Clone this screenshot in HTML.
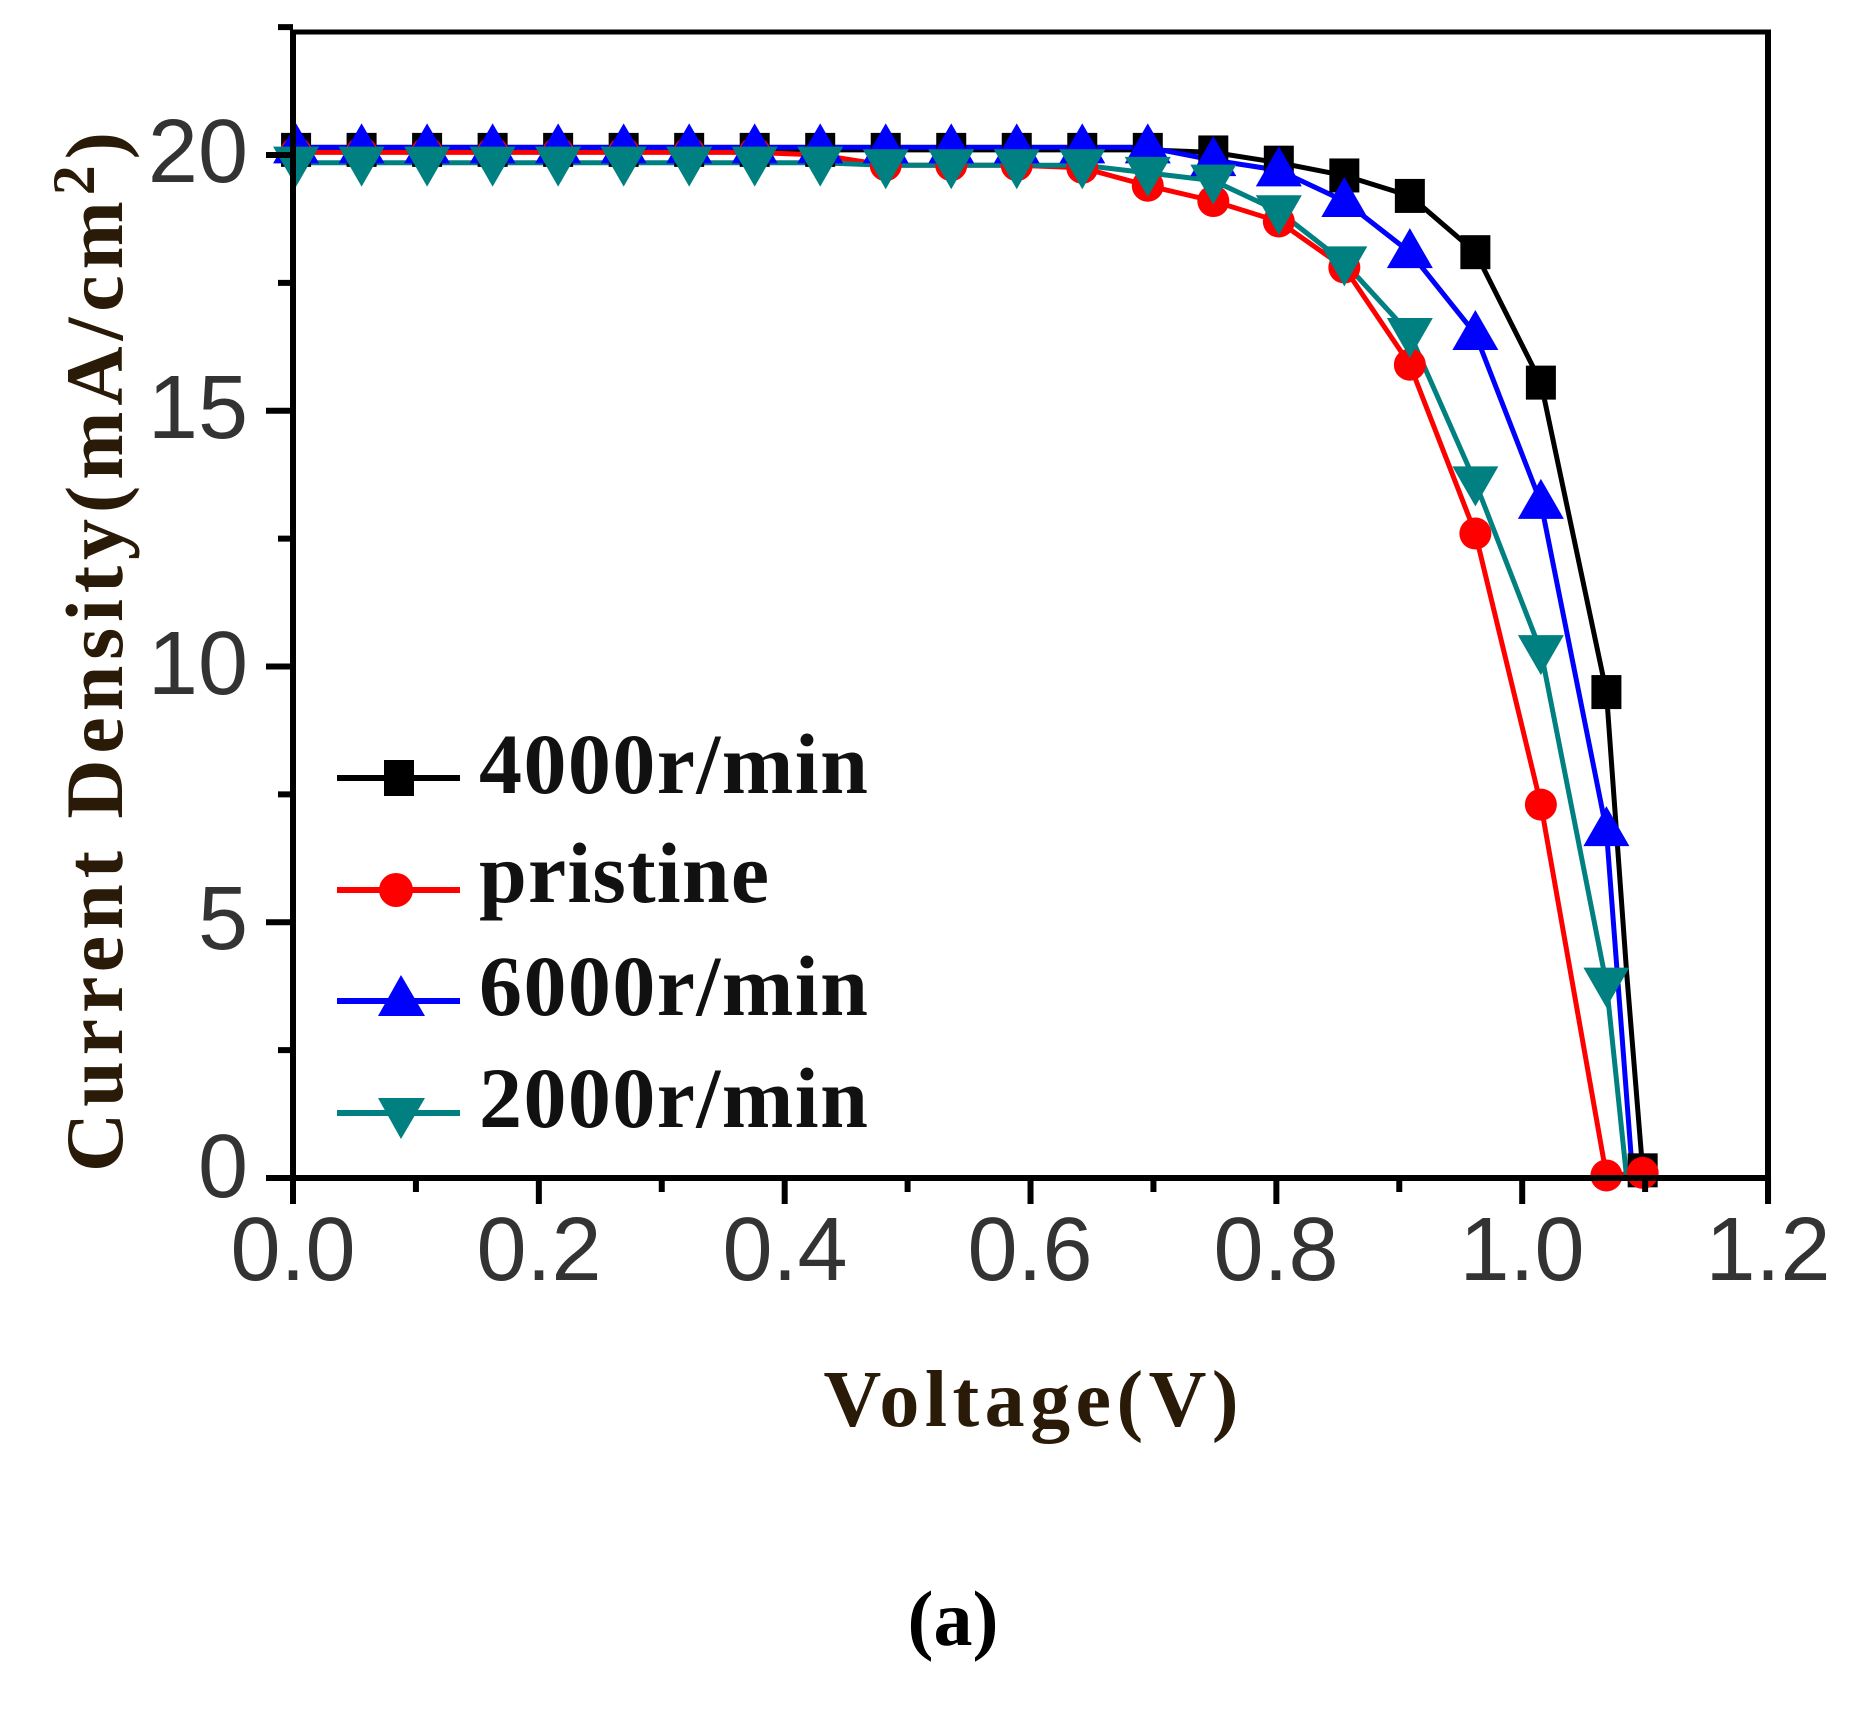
<!DOCTYPE html>
<html><head><meta charset="utf-8"><style>
html,body{margin:0;padding:0;background:#fff;}
svg{display:block;}
</style></head><body>
<svg id="s" width="1860" height="1716" viewBox="0 0 1860 1716" xmlns="http://www.w3.org/2000/svg">
<rect width="1860" height="1716" fill="#fff"/>
<g id="plot"></g>
<g stroke="#000" fill="none">
<line x1="293" y1="32" x2="1771" y2="32" stroke-width="5"/>
<line x1="1768" y1="30" x2="1768" y2="1200" stroke-width="6"/>
<line x1="293" y1="30" x2="293" y2="1204" stroke-width="6"/>
<line x1="266" y1="1178" x2="1771" y2="1178" stroke-width="6"/>
</g>
<g id="ticks" stroke="#000" stroke-width="6"></g>
<g font-family="Liberation Sans, sans-serif" font-size="90" fill="#333">
<text x="248" y="182" text-anchor="end">20</text>
<text x="248" y="438" text-anchor="end">15</text>
<text x="248" y="694" text-anchor="end">10</text>
<text x="248" y="949" text-anchor="end">5</text>
<text x="248" y="1197" text-anchor="end">0</text>
<text x="293" y="1280" text-anchor="middle">0.0</text>
<text x="539" y="1280" text-anchor="middle">0.2</text>
<text x="785" y="1280" text-anchor="middle">0.4</text>
<text x="1030" y="1280" text-anchor="middle">0.6</text>
<text x="1276" y="1280" text-anchor="middle">0.8</text>
<text x="1522" y="1280" text-anchor="middle">1.0</text>
<text x="1768" y="1280" text-anchor="middle">1.2</text>
</g>
<text transform="translate(122,652) rotate(-90)" text-anchor="middle" font-family="Liberation Serif, serif" font-weight="bold" font-size="82" fill="#2a1a08" textLength="1040" lengthAdjust="spacing">Current Density(mA/cm<tspan font-size="60" dy="-28">2</tspan><tspan dy="28">)</tspan></text>
<text x="1031" y="1426" text-anchor="middle" font-family="Liberation Serif, serif" font-weight="bold" font-size="80" fill="#2a1a08" textLength="415" lengthAdjust="spacing">Voltage(V)</text>
<text x="953" y="1645" text-anchor="middle" font-family="Liberation Serif, serif" font-weight="bold" font-size="78" fill="#000">(a)</text>
<g font-family="Liberation Serif, serif" font-weight="bold" font-size="86" fill="#111">
<line x1="337" y1="778" x2="460" y2="778" stroke="#000" stroke-width="6"/>
<rect x="384" y="760" width="30" height="36" fill="#000"/>
<text x="479" y="793" textLength="389" lengthAdjust="spacing">4000r/min</text>
<line x1="337" y1="890" x2="460" y2="890" stroke="#f00" stroke-width="6"/>
<circle cx="396" cy="890" r="17" fill="#f00"/>
<text x="479" y="902" textLength="290" lengthAdjust="spacing">pristine</text>
<line x1="337" y1="1001" x2="460" y2="1001" stroke="#00f" stroke-width="6"/>
<polygon points="378,1016 425,1016 401,975" fill="#00f"/>
<text x="479" y="1015" textLength="389" lengthAdjust="spacing">6000r/min</text>
<line x1="337" y1="1113" x2="460" y2="1113" stroke="#008080" stroke-width="6"/>
<polygon points="378,1098 425,1098 401,1139" fill="#008080"/>
<text x="479" y="1127" textLength="389" lengthAdjust="spacing">2000r/min</text>
</g>
</svg>
<script>
(function(){
var NS="http://www.w3.org/2000/svg";
function X(v){return 293+v*1229.2;}
function Y(j){return 1178-j*51.15;}
var t=document.getElementById("ticks");
function ln(x1,y1,x2,y2){var l=document.createElementNS(NS,"line");l.setAttribute("x1",x1);l.setAttribute("y1",y1);l.setAttribute("x2",x2);l.setAttribute("y2",y2);t.appendChild(l);}
for(var i=0;i<=12;i++){var x=X(i*0.1);ln(x,1178,x,i%2==0?1204:1192);}
for(var k=0;k<=9;k++){var y=Y(k*2.5);ln(293,y,k%2==0?266:278,y);}
var g=document.getElementById("plot");
function V(i){return 0.0025+i*0.0533;}
function series(js,extra){var p=[];for(var i=0;i<js.length;i++)p.push([V(i),js[i]]);return p.concat(extra);}
var black=series([20.1,20.1,20.1,20.1,20.1,20.1,20.1,20.1,20.1,20.1,20.1,20.1,20.1,20.1,20.05,19.85,19.6,19.2,18.1,15.55,9.5],[[1.085,4],[1.098,0.15],[1.105,0.1]]);
var red=series([20.05,20.05,20.05,20.05,20.05,20.05,20.05,20.05,20.0,19.8,19.8,19.8,19.75,19.4,19.1,18.7,17.8,15.9,12.6,7.3,0.05],[[1.098,0.1]]);
var blue=series([20.15,20.15,20.15,20.15,20.15,20.15,20.15,20.15,20.15,20.15,20.15,20.15,20.15,20.15,19.9,19.7,19.1,18.1,16.5,13.2,6.8],[[1.09,0]]);
var teal=series([19.85,19.85,19.85,19.85,19.85,19.85,19.85,19.85,19.85,19.8,19.8,19.8,19.8,19.65,19.5,18.9,17.9,16.5,13.6,10.3,3.8],[[1.085,0]]);
function path(pts,col){var d="";pts.forEach(function(p,i){d+=(i?"L":"M")+X(p[0]).toFixed(1)+","+Y(p[1]).toFixed(1);});var e=document.createElementNS(NS,"path");e.setAttribute("d",d);e.setAttribute("stroke",col);e.setAttribute("stroke-width","5");e.setAttribute("fill","none");g.appendChild(e);}
function mk(pts,col,type,n){for(var i=0;i<n;i++){var x=X(pts[i][0]),y=Y(pts[i][1]),e;
if(type=="s"){e=document.createElementNS(NS,"rect");e.setAttribute("x",x-15);e.setAttribute("y",y-17);e.setAttribute("width",30);e.setAttribute("height",34);}
else if(type=="c"){e=document.createElementNS(NS,"circle");e.setAttribute("cx",x);e.setAttribute("cy",y);e.setAttribute("r",16);}
else if(type=="u"){e=document.createElementNS(NS,"polygon");e.setAttribute("points",(x-23)+","+(y+16)+" "+(x+23)+","+(y+16)+" "+x+","+(y-24));}
else{e=document.createElementNS(NS,"polygon");e.setAttribute("points",(x-23)+","+(y-16)+" "+(x+23)+","+(y-16)+" "+x+","+(y+24));}
e.setAttribute("fill",col);g.appendChild(e);}}
path(black,"#000");path(red,"#f00");path(blue,"#00f");path(teal,"#008080");
mk(black,"#000","s",21);
mk([[1.098,0.15]],"#000","s",1);
mk(red,"#f00","c",22);
mk(blue,"#00f","u",21);
mk(teal,"#008080","d",21);
})();
</script>
</body></html>
